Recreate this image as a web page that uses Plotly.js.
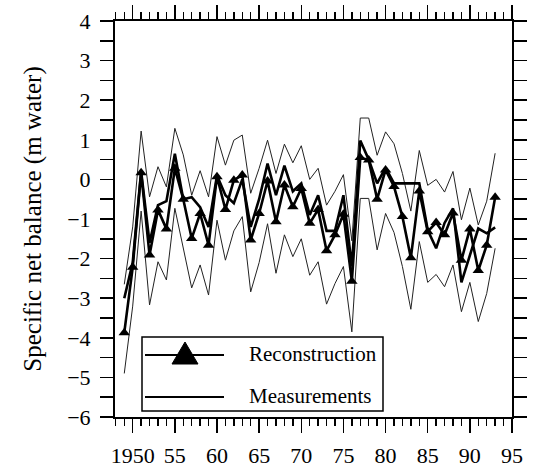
<!DOCTYPE html>
<html><head><meta charset="utf-8">
<script src="https://cdn.plot.ly/plotly-3.0.1.min.js"></script>
<style>html,body{margin:0;padding:0;background:#fff}</style>
</head><body><div id="chart" style="width:539px;height:474px"></div>
<script>
const years = [1949,1950,1951,1952,1953,1954,1955,1956,1957,1958,1959,1960,1961,1962,1963,1964,1965,1966,1967,1968,1969,1970,1971,1972,1973,1974,1975,1976,1977,1978,1979,1980,1981,1982,1983,1984,1985,1986,1987,1988,1989,1990,1991,1992,1993];
const reconstruction = [-3.87,-2.22,0.17,-1.91,-0.77,-1.25,0.28,-0.5,-1.49,-0.86,-1.66,0.07,-0.76,-0.02,0.11,-1.53,-0.86,-0.04,-1.07,-0.14,-0.69,-0.23,-1.11,-0.76,-1.8,-1.4,-0.88,-2.57,0.55,0.49,-0.5,0.24,-0.18,-0.94,-1.98,-0.29,-1.32,-1.09,-1.4,-0.85,-2.04,-1.25,-2.3,-1.66,-0.45];
const measurements = [-3.0,-2.1,0.2,-1.6,-0.65,-0.55,0.65,-0.5,-0.45,-0.7,-1.2,0.1,-0.4,-0.6,0.0,-1.2,-0.5,0.4,-0.4,0.35,-0.3,-0.1,-0.9,-0.4,-1.3,-1.3,-0.4,-2.2,0.98,0.5,-0.1,0.3,-0.1,-0.1,-0.1,-0.1,-1.28,-1.74,-1.1,-0.73,-2.6,-1.9,-1.24,-1.36,-1.21];
const upperBound = [-2.65,-1.2,1.22,-0.44,0.32,-0.19,1.29,0.62,-0.4,0.22,-0.44,1.08,0.36,0.99,1.12,-0.35,0.28,0.99,0.15,0.89,0.42,0.85,0.0,0.28,-0.65,-0.3,0.12,-1.55,1.55,1.55,0.61,1.2,0.9,0.15,-0.8,0.73,-0.15,0.0,-0.32,0.2,-1.02,-0.22,-1.15,-0.55,0.66];
const lowerBound = [-4.9,-3.2,-0.8,-3.17,-2.08,-2.54,-0.73,-1.7,-2.74,-2.16,-2.92,-1.03,-2.04,-1.3,-0.94,-2.84,-2.1,-1.12,-2.37,-1.4,-1.95,-1.5,-2.42,-2.08,-3.15,-2.63,-2.2,-3.85,-0.48,-0.48,-1.78,-0.86,-1.34,-2.2,-3.28,-1.57,-2.6,-2.4,-2.71,-2.16,-3.34,-2.6,-3.59,-2.88,-1.74];
const xTickVals = [1950,1955,1960,1965,1970,1975,1980,1985,1990,1995];
const xTickText = ['1950','55','60','65','70','75','80','85','90','95'];
const legendLabels = ['Reconstruction','Measurements'];
const yTitle = 'Specific net balance (m water)';

const xAlias = {};
xTickVals.forEach((v, i) => { xAlias[String(v)] = xTickText[i]; });

const thin = {color:'#222', width:1};
const traces = [
  {x: years, y: upperBound, mode:'lines', line: thin, showlegend:false, hoverinfo:'skip'},
  {x: years, y: lowerBound, mode:'lines', line: thin, showlegend:false, hoverinfo:'skip'},
  {x: years, y: measurements, mode:'lines', line:{color:'#000', width:2.6}, showlegend:false},
  {x: years, y: reconstruction, mode:'lines+markers', line:{color:'#000', width:2.6},
   marker:{symbol:'triangle-up', size:10, color:'#000'}, showlegend:false}
];

const serif = 'Liberation Serif';
const px = v => (v - 115) / 397;
const py = v => (417 - v) / 396;

const shapes = [
  {type:'rect', xref:'paper', yref:'paper', x0:px(142), x1:px(383), y0:py(411), y1:py(337), line:{color:'#000', width:1.5}},
  {type:'line', xref:'paper', yref:'paper', x0:px(145), x1:px(224), y0:py(355), y1:py(355), line:{color:'#000', width:2}},
  {type:'path', xref:'paper', yref:'paper', path:`M${px(185)},${py(342)} L${px(198)},${py(364)} L${px(172)},${py(364)} Z`, fillcolor:'#000', line:{color:'#000', width:1}},
  {type:'line', xref:'paper', yref:'paper', x0:px(145), x1:px(224), y0:py(397), y1:py(397), line:{color:'#000', width:2}}
];
const annotations = [
  {xref:'paper', yref:'paper', x:px(247), y:py(354), text:legendLabels[0], showarrow:false, xanchor:'left', yanchor:'middle', font:{family:serif, size:21, color:'#000'}},
  {xref:'paper', yref:'paper', x:px(247), y:py(396), text:legendLabels[1], showarrow:false, xanchor:'left', yanchor:'middle', font:{family:serif, size:21, color:'#000'}}
];

const layout = {
  width:539, height:474,
  margin:{l:115, r:27, t:21, b:57},
  paper_bgcolor:'#fff', plot_bgcolor:'#fff',
  showlegend:false,
  xaxis:{range:[1947.9,1995], tickmode:'linear', tick0:1950, dtick:5, labelalias:xAlias,
    ticks:'outside', ticklen:14, tickwidth:1.5, tickcolor:'#000',
    showline:true, linewidth:2, linecolor:'#000', mirror:'ticks', showgrid:false, zeroline:false,
    tickfont:{family:serif, size:22, color:'#000'}, ticklabelstandoff:4,
    minor:{tick0:1950, dtick:1, ticks:'outside', ticklen:7, tickwidth:1.3, tickcolor:'#000', showgrid:false}},
  yaxis:{range:[-6,4], tickmode:'linear', tick0:0, dtick:1,
    ticks:'outside', ticklen:13, tickwidth:1.5, tickcolor:'#000',
    showline:true, linewidth:2, linecolor:'#000', mirror:'ticks', showgrid:false, zeroline:false,
    tickfont:{family:serif, size:22, color:'#000'}, ticklabelstandoff:5,
    minor:{tick0:0, dtick:0.5, ticks:'outside', ticklen:13, tickwidth:1.5, tickcolor:'#000', showgrid:false},
    title:{text:yTitle, font:{family:serif, size:25, color:'#000'}, standoff:18}},
  shapes: shapes,
  annotations: annotations
};
Plotly.newPlot('chart', traces, layout, {displayModeBar:false, staticPlot:true});
</script></body></html>
